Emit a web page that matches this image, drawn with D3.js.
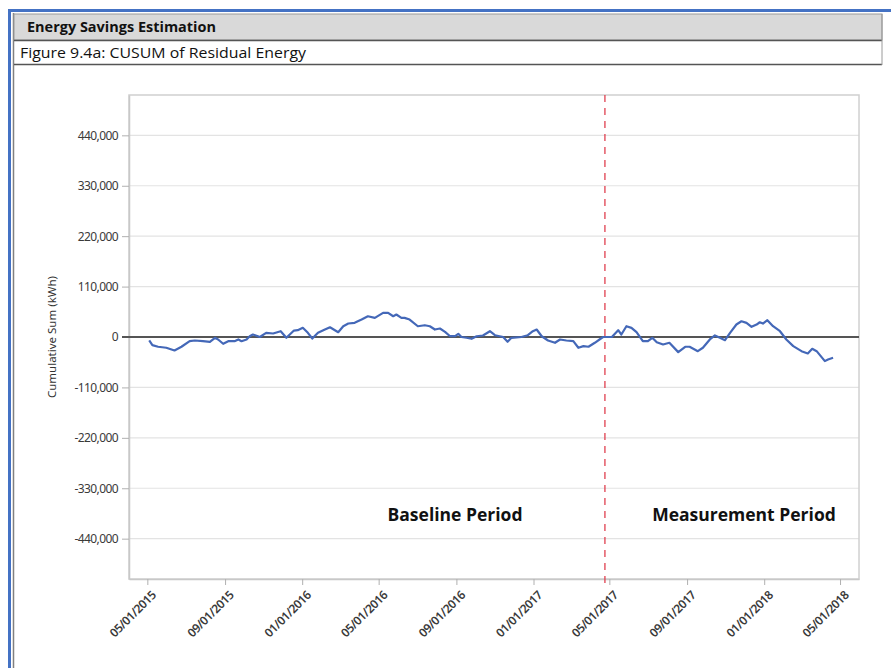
<!DOCTYPE html>
<html>
<head>
<meta charset="utf-8">
<script src="https://cdn.jsdelivr.net/npm/d3@7"></script>
<style>
  body { margin: 0; background: #fff; }
  svg { display: block; font-family: "Noto Sans", "Open Sans", sans-serif; }
</style>
</head>
<body>
<svg id="chart" width="891" height="668"></svg>
<script>
// cumulative sum readings (date, kWh)
const dates = [
  "2015-05-04","2015-05-09","2015-05-18","2015-05-31","2015-06-13","2015-06-24","2015-07-07","2015-07-15",
  "2015-07-28","2015-08-08","2015-08-16","2015-08-21","2015-08-29","2015-09-06","2015-09-16","2015-09-22",
  "2015-09-27","2015-10-05","2015-10-10","2015-10-15","2015-10-23","2015-10-26","2015-11-05","2015-11-16",
  "2015-11-28","2015-12-07","2015-12-19","2015-12-25","2016-01-02","2016-01-10","2016-01-17","2016-01-26",
  "2016-02-06","2016-02-14","2016-02-27","2016-03-06","2016-03-14","2016-03-24","2016-04-04","2016-04-14",
  "2016-04-25","2016-05-08","2016-05-16","2016-05-24","2016-05-29","2016-06-06","2016-06-11","2016-06-19",
  "2016-07-02","2016-07-13","2016-07-21","2016-07-29","2016-08-06","2016-08-14","2016-08-22","2016-08-30",
  "2016-09-04","2016-09-09","2016-09-17","2016-09-25","2016-10-03","2016-10-13","2016-10-24","2016-11-01",
  "2016-11-14","2016-11-21","2016-11-27","2016-12-13","2016-12-23","2016-12-31","2017-01-06","2017-01-14",
  "2017-01-24","2017-02-04","2017-02-12","2017-02-22","2017-03-05","2017-03-13","2017-03-21","2017-03-29",
  "2017-04-08","2017-04-21","2017-05-05","2017-05-15","2017-05-20","2017-05-28","2017-06-05","2017-06-13",
  "2017-06-23","2017-07-01","2017-07-08","2017-07-15","2017-07-25","2017-08-04","2017-08-18","2017-08-29",
  "2017-09-05","2017-09-18","2017-09-26","2017-10-07","2017-10-15","2017-10-23","2017-10-31","2017-11-08",
  "2017-11-18","2017-11-26","2017-12-04","2017-12-12","2017-12-20","2017-12-25","2017-12-30","2018-01-06",
  "2018-01-15","2018-01-26","2018-02-05","2018-02-16","2018-03-01","2018-03-11","2018-03-18","2018-03-25",
  "2018-04-07","2018-04-12","2018-04-20"
];
const cusum = [
  -7600,-17800,-21300,-23500,-29400,-21300,-9100,-7600,
  -9100,-10500,-1700,-5400,-14800,-9100,-9100,-5400,
  -9100,-5400,1700,5400,1700,0,9100,7600,
  12600,-1700,14100,14800,20000,9100,-3300,9100,
  16300,21300,10500,23500,29400,30900,38100,45300,
  41800,52700,52700,45300,49000,41800,41800,38100,
  23500,25700,23500,16300,18500,11300,1700,1700,
  7000,0,-1700,-3900,1700,3300,12600,3900,
  0,-10500,-1700,0,3900,12600,16300,1700,
  -7600,-12600,-5400,-7600,-9100,-23500,-20000,-21300,
  -12600,0,0,14800,5400,23500,20000,10500,
  -9100,-9100,-1700,-11300,-16300,-12600,-33000,-21300,
  -21300,-30900,-23500,-5400,3300,-1700,-7000,9100,
  27200,34400,30900,22200,27200,32200,29400,36600,
  23500,12600,-5400,-20000,-30900,-35900,-25700,-30900,
  -52700,-49000,-45300
];

const yTicks = [-440000, -330000, -220000, -110000, 0, 110000, 220000, 330000, 440000];
const xTicks = ["2015-05-01","2015-09-01","2016-01-01","2016-05-01","2016-09-01",
                "2017-01-01","2017-05-01","2017-09-01","2018-01-01","2018-05-01"];
const splitDate = "2017-04-24";
const periodLabels = ["Baseline Period", "Measurement Period"];

const parse = d3.timeParse("%Y-%m-%d");
const data = dates.map((d, i) => ({ date: parse(d), v: cusum[i] }));

const svg = d3.select("#chart");

// ---- report frame ----
svg.append("rect").attr("x", 8).attr("y", 9).attr("width", 883).attr("height", 3).attr("fill", "#4472c4");
svg.append("rect").attr("x", 8).attr("y", 9).attr("width", 3).attr("height", 659).attr("fill", "#4472c4");
svg.append("line").attr("x1", 13.5).attr("x2", 13.5).attr("y1", 13).attr("y2", 668)
  .attr("stroke", "#808080").attr("stroke-width", 1.5);
svg.append("rect").attr("x", 14).attr("y", 14).attr("width", 868).attr("height", 26)
  .attr("fill", "#d9d9d9").attr("stroke", "#9a9a9a");
svg.append("line").attr("x1", 14).attr("x2", 882).attr("y1", 40.5).attr("y2", 40.5)
  .attr("stroke", "#555").attr("stroke-width", 1.5);
svg.append("line").attr("x1", 14).attr("x2", 882).attr("y1", 64.5).attr("y2", 64.5)
  .attr("stroke", "#555").attr("stroke-width", 1.5);
svg.append("line").attr("x1", 882).attr("x2", 882).attr("y1", 14).attr("y2", 65)
  .attr("stroke", "#9a9a9a");
svg.append("text").attr("x", 27).attr("y", 32)
  .attr("font-family", "Open Sans, sans-serif")
  .attr("font-weight", "bold").attr("font-size", 14).attr("fill", "#111")
  .attr("textLength", 189).attr("lengthAdjust", "spacingAndGlyphs")
  .text("Energy Savings Estimation");
svg.append("text").attr("x", 20).attr("y", 58)
  .attr("font-family", "Open Sans, sans-serif")
  .attr("font-size", 14).attr("fill", "#111")
  .attr("textLength", 286).attr("lengthAdjust", "spacingAndGlyphs")
  .text("Figure 9.4a: CUSUM of Residual Energy");

// ---- plot ----
const plot = { left: 129, top: 95, right: 859, bottom: 579 };

const x = d3.scaleTime()
  .domain([parse("2015-04-02"), parse("2018-05-31")])
  .range([plot.left, plot.right]);
const y = d3.scaleLinear()
  .domain([-528000, 528000])
  .range([plot.bottom, plot.top]);

// grid
svg.append("g").selectAll("line").data(yTicks.filter(t => t !== 0)).join("line")
  .attr("x1", plot.left).attr("x2", plot.right)
  .attr("y1", d => y(d)).attr("y2", d => y(d))
  .attr("stroke", "#e3e3e3").attr("stroke-width", 1.2);

// plot border
svg.append("rect").attr("x", plot.left).attr("y", plot.top)
  .attr("width", plot.right - plot.left).attr("height", plot.bottom - plot.top)
  .attr("fill", "none").attr("stroke", "#d0d0d0").attr("stroke-width", 1.5);

// y axis
const fmt = d3.format(",");
const yAxis = svg.append("g").attr("transform", `translate(${plot.left},0)`)
  .call(d3.axisLeft(y).tickValues(yTicks).tickSize(7).tickSizeOuter(0).tickPadding(4)
    .tickFormat(d => fmt(d).replace("\u2212", "-")));
yAxis.select(".domain").attr("stroke", "#c8c8c8").attr("stroke-width", 1.5);
yAxis.selectAll(".tick line").attr("stroke", "#b0b0b0");
yAxis.selectAll("text").attr("font-size", 12).attr("fill", "#3a3a3a")
  .attr("font-family", "Noto Sans, sans-serif").attr("letter-spacing", -0.6);

// x axis
const xAxis = svg.append("g").attr("transform", `translate(0,${plot.bottom})`)
  .call(d3.axisBottom(x).tickValues(xTicks.map(parse)).tickSize(6).tickSizeOuter(0)
    .tickFormat(d3.timeFormat("%m/%d/%Y")));
xAxis.select(".domain").attr("stroke", "#c8c8c8").attr("stroke-width", 1.5);
xAxis.selectAll(".tick line").attr("stroke", "#b0b0b0");
xAxis.selectAll("text")
  .attr("font-size", 12).attr("fill", "#3a3a3a").attr("font-weight", "600")
  .attr("font-family", "Noto Sans, sans-serif").attr("letter-spacing", -0.5)
  .attr("text-anchor", "end").attr("dy", 0).attr("y", 0)
  .attr("transform", "translate(9,17) rotate(-45)");

// zero line
svg.append("line").attr("x1", plot.left - 7).attr("x2", plot.right)
  .attr("y1", y(0)).attr("y2", y(0))
  .attr("stroke", "#555").attr("stroke-width", 2);

// period divider
const xs = x(parse(splitDate));
svg.append("line").attr("x1", xs).attr("x2", xs)
  .attr("y1", plot.top).attr("y2", plot.bottom + 8)
  .attr("stroke", "#e0404f").attr("stroke-width", 1.3).attr("stroke-dasharray", "7,6");

// cusum line
const line = d3.line().x(d => x(d.date)).y(d => y(d.v));
svg.append("path").datum(data)
  .attr("fill", "none").attr("stroke", "#4468b8").attr("stroke-width", 2.2)
  .attr("stroke-linejoin", "round").attr("d", line);

// period labels
svg.append("text").attr("x", 455).attr("y", 521).attr("text-anchor", "middle")
  .attr("font-weight", "bold").attr("font-size", 17.5).attr("fill", "#111")
  .attr("font-family", "Open Sans, sans-serif")
  .text(periodLabels[0]);
svg.append("text").attr("x", 744).attr("y", 521).attr("text-anchor", "middle")
  .attr("font-weight", "bold").attr("font-size", 17.5).attr("fill", "#111")
  .attr("font-family", "Open Sans, sans-serif")
  .text(periodLabels[1]);

// y axis title
svg.append("text").attr("transform", `translate(56,${y(0)}) rotate(-90)`)
  .attr("text-anchor", "middle").attr("font-size", 11.5).attr("fill", "#333")
  .text("Cumulative Sum (kWh)");
</script>
</body>
</html>
